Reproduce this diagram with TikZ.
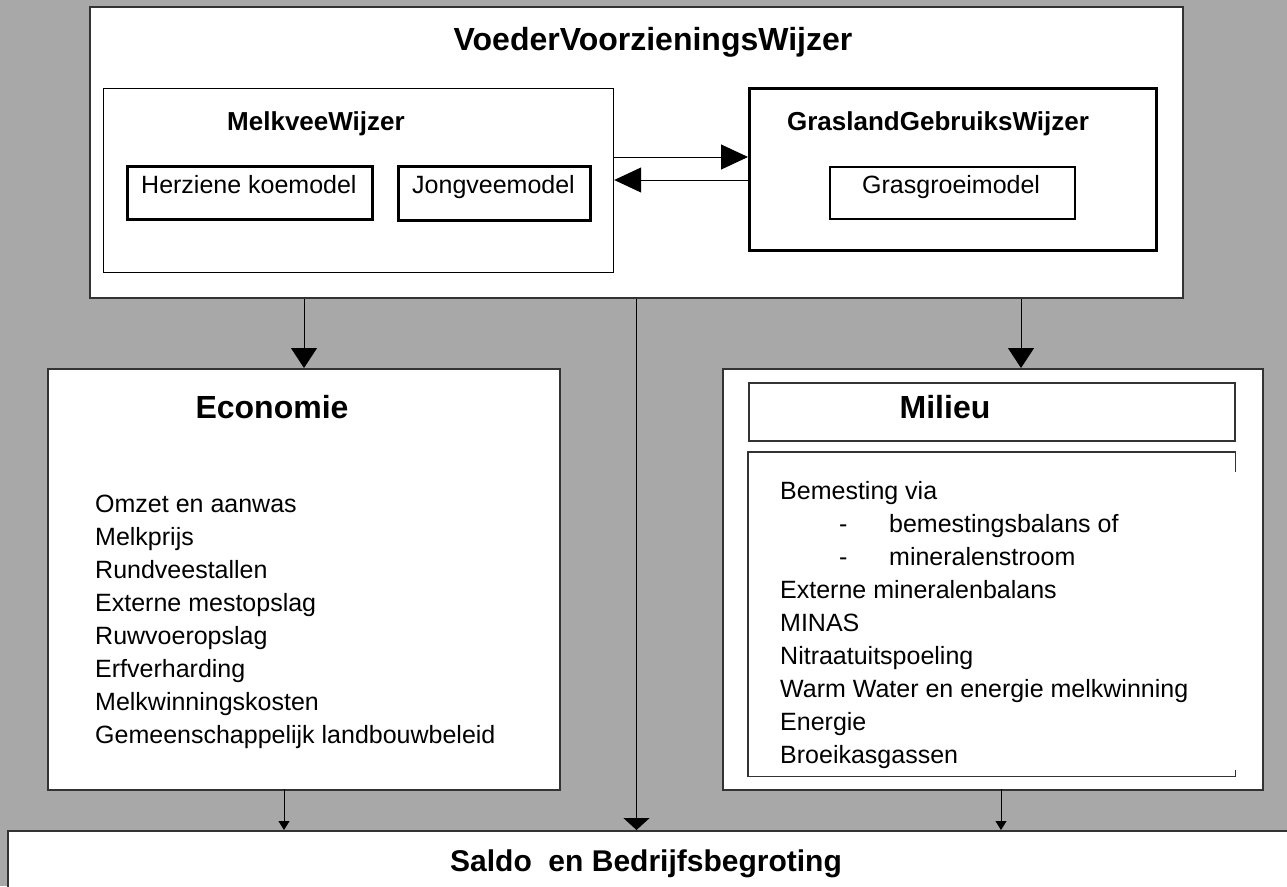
\documentclass[tikz,border=0pt]{standalone}
\usepackage{fontspec}
\setmainfont{Liberation Sans}
\usetikzlibrary{arrows.meta}
\definecolor{dotgray}{gray}{0.66}
\tikzset{panel/.style={draw=black!80, line width=2pt, fill=white, anchor=north west, inner sep=0pt},
  thinpanel/.style={panel, draw=black, line width=1.2pt},
  model/.style={panel, draw=black, line width=2.5pt},
  heading/.style={font=\fontsize{32}{36}\selectfont\bfseries, anchor=base, inner sep=0pt},
  subheading/.style={font=\fontsize{26}{30}\selectfont\bfseries, anchor=base, inner sep=0pt},
  plain/.style={font=\fontsize{25}{33}\selectfont, anchor=base west, inner sep=0pt},
  flow/.style={line width=1pt, -{Triangle[length=27pt,width=25pt]}},
  drop/.style={line width=1pt, -{Triangle[length=20pt,width=26pt]}},
  flatdrop/.style={line width=1pt, -{Triangle[length=12pt,width=26pt]}},
  smalldrop/.style={line width=1pt, -{Triangle[length=9pt,width=11pt]}}}

\begin{document}
\begin{tikzpicture}[x=1pt, y=-1pt]
\useasboundingbox (0,0) rectangle (1287,886);
\clip (0,0) rectangle (1287,886);
\fill[dotgray] (0,0) rectangle (1287,886);
% top block
\node[panel, minimum width=1093pt, minimum height=291pt] (vvw) at (89,6) {};
\node[heading] (vvwtitle) at (653,50) {VoederVoorzieningsWijzer};
\node[thinpanel, minimum width=510pt, minimum height=184pt] (melk) at (103,88) {};
\node[subheading] (melktitle) at (316,130) {MelkveeWijzer};
\node[model, minimum width=245pt, minimum height=53pt] (koe) at (126,165) {};
\node[plain] (koetext) at (141,193) {Herziene koemodel};
\node[model, minimum width=192pt, minimum height=54pt] (jong) at (397,165) {};
\node[plain] (jongtext) at (412,193) {Jongveemodel};
\node[panel, draw=black, line width=3pt, minimum width=407pt, minimum height=162pt] (gras) at (748,87) {};
\node[subheading] (grastitle) at (938,130) {GraslandGebruiksWijzer};
\node[panel, draw=black, minimum width=245pt, minimum height=52pt] (groei) at (829,166) {};
\node[plain] (groeitext) at (862,193) {Grasgroeimodel};
\coordinate (upper) at (0,157);
\coordinate (lower) at (0,180);
\draw[flow] (melk.east |- upper) -- (gras.west |- upper);
\draw[flow] (gras.west |- lower) -- (melk.east |- lower);
% economie
\node[panel, minimum width=512pt, minimum height=421pt] (eco) at (47,368) {};
\node[heading] (ecotitle) at (272,418) {Economie};
\node[plain] (ecolist) at (95,512) {\begin{tabular}[t]{@{}l@{}}
Omzet en aanwas\\ Melkprijs\\ Rundveestallen\\ Externe mestopslag\\ Ruwvoeropslag\\
Erfverharding\\ Melkwinningskosten\\ Gemeenschappelijk landbouwbeleid\end{tabular}};
% milieu
\node[panel, minimum width=540pt, minimum height=421pt] (mil) at (722,368) {};
\node[panel, line width=1.5pt, minimum width=486pt, minimum height=58pt] (miltop) at (748,382) {};
\node[heading] (miltitle) at (945,418) {Milieu};
\node[anchor=north west, inner sep=0pt, minimum width=487pt, minimum height=324pt] (milbox) at (748,452) {};
\draw[black!80, line width=1.5pt] ([yshift=-20pt]milbox.north east) -- (milbox.north east) -- (milbox.north west)
  -- (milbox.south west) -- (milbox.south east) -- ([yshift=6pt]milbox.south east);
\node[plain] (millist) at (780,499) {\begin{tabular}[t]{@{}l@{}}
Bemesting via\\ \makebox[109pt][l]{\hspace*{59pt}-}bemestingsbalans of\\
\makebox[109pt][l]{\hspace*{59pt}-}mineralenstroom\\ Externe mineralenbalans\\ MINAS\\
Nitraatuitspoeling\\ Warm Water en energie melkwinning\\ Energie\\ Broeikasgassen\end{tabular}};
% saldo
\node[panel, minimum width=1300pt, minimum height=100pt] (saldo) at (7,830) {};
\node[font=\fontsize{30}{34}\selectfont\bfseries, anchor=base, inner sep=0pt] (saldotitle) at (646,871) {Saldo\ \ en Bedrijfsbegroting};
% connectors
\coordinate (milin) at (1021,368);
\coordinate (ecoout) at (284,789);
\coordinate (milout) at (1001,789);
\draw[drop] (eco.north |- vvw.south) -- (eco.north);
\draw[drop] (milin |- vvw.south) -- (milin);
\draw[flatdrop] (vvw.south) -- (vvw.south |- saldo.north);
\draw[smalldrop] (ecoout) -- (ecoout |- saldo.north);
\draw[smalldrop] (milout) -- (milout |- saldo.north);
\end{tikzpicture}
\end{document}
